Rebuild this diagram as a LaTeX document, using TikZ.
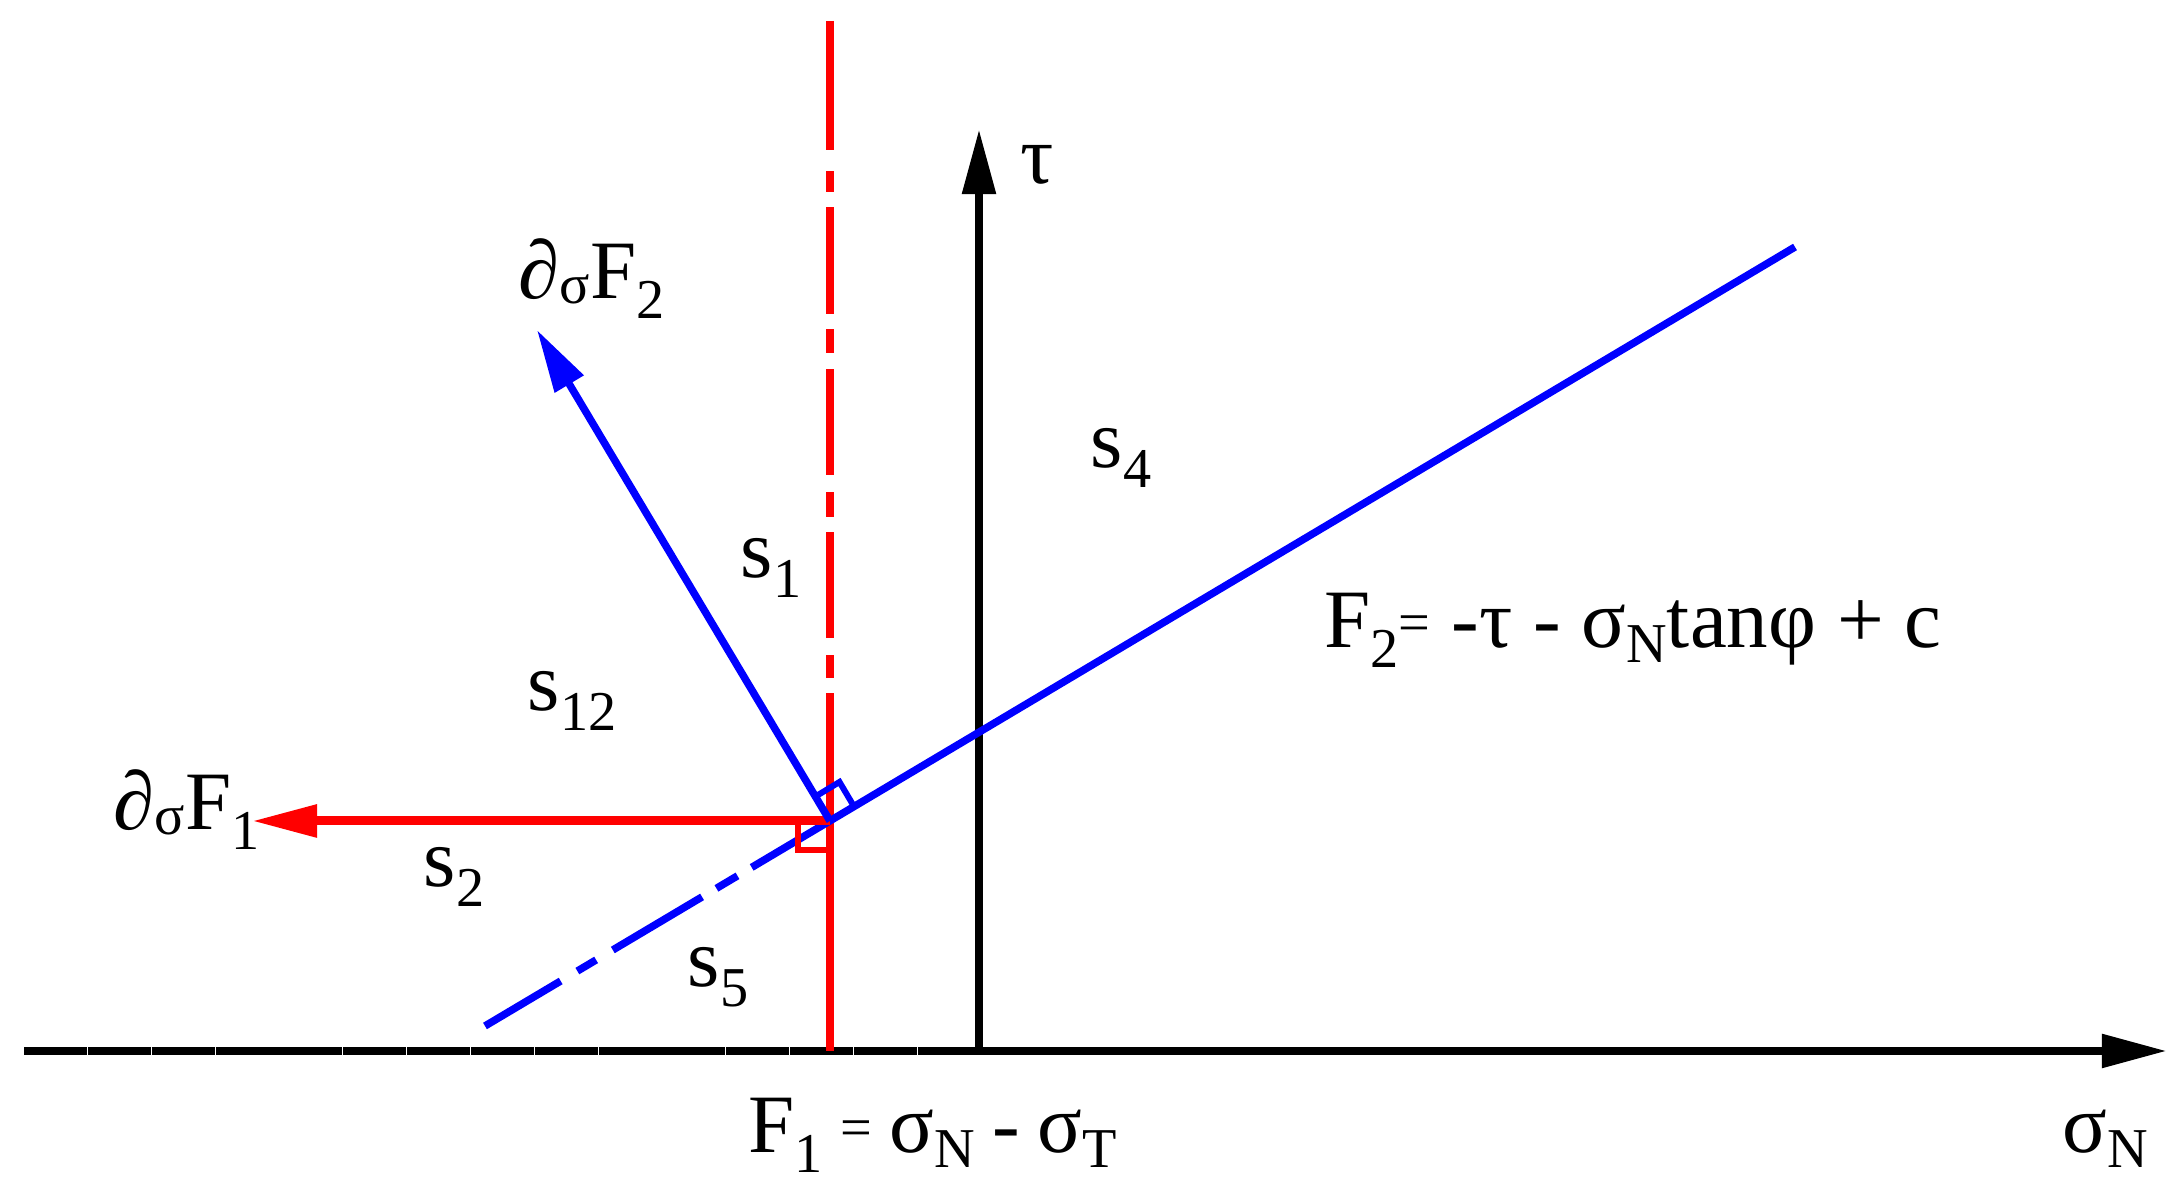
\documentclass[tikz,border=0pt]{standalone}
\usepackage{fontspec}
\setmainfont{Liberation Serif}
\newfontfamily\tnr{Liberation Serif}
\usetikzlibrary{arrows.meta}
\newcommand\lowsub[1]{\raisebox{-0.24em}{\fontsize{16pt}{16pt}\selectfont #1}}
\newcommand\nsub[1]{\raisebox{-0.18em}{\fontsize{16pt}{16pt}\selectfont #1}}
\newcommand\dsig{∂\raisebox{-0.06em}{\fontsize{16pt}{16pt}\selectfont σ}}
\newcommand\smeq{\raisebox{0.08em}{\fontsize{16pt}{16pt}\selectfont =}}
\newcommand\tsp{\hspace{0.21em}}
\begin{document}
\begin{tikzpicture}[x=0.01cm,y=-0.01cm,
  lbl/.style={anchor=base west, inner sep=0pt, font=\tnr\fontsize{23.6pt}{28pt}\selectfont},
  blk/.style={line width=0.085cm, black},
  redl/.style={line width=0.075cm, red},
  bluel/.style={line width=0.075cm, blue},
  bigtip/.style={-{Triangle[length=0.65cm,width=0.32cm]}}]
\useasboundingbox (0,0) rectangle (2174,1192);
% key points
\coordinate (O) at (979,1051);
\coordinate (XS) at (24,1051);
\coordinate (XE) at (2167,1051);
\coordinate (YE) at (979,129);
\coordinate (P) at (830,821);
\coordinate (RT) at (830,21);
\coordinate (RB) at (830,1051);
\coordinate (BL) at (485,1026);
\coordinate (BT) at (1795,247);
\coordinate (F1tip) at (252,821);
\coordinate (F2tip) at (537,330);
\coordinate (RA1) at (798,821);
\coordinate (RA2) at (798,850);
\coordinate (RA3) at (830,850);
\coordinate (BA1) at (815.5,796.5);
\coordinate (BA2) at (839.5,782);
\coordinate (BA3) at (854,806.5);
% axes
\draw[blk, dash pattern=on 0.63cm off 0.008cm] (XS) -- (O);
\draw[blk, bigtip] (O) -- (XE);
\draw[blk, bigtip] (O) -- (YE);
% red F1 line
\draw[redl, dash pattern=on 1.29cm off 0.21cm on 0.21cm off 0.15cm on 1.07cm off 0.15cm on 0.24cm off 0.16cm on 1.06cm off 0.17cm on 0.25cm off 0.15cm on 1.06cm off 0.17cm on 0.23cm off 0.15cm on 5cm off 0.1cm] (RT) -- (RB);
% blue F2 line
\draw[bluel, dash pattern=on 0.88cm off 0.194cm on 0.218cm off 0.194cm on 1.038cm off 0.167cm on 0.245cm off 0.165cm on 20cm off 0.1cm] (BL) -- (BT);
% gradient arrows
\draw[redl, line width=0.09cm, -{Triangle[length=0.65cm,width=0.31cm]}] (P) -- (F1tip);
\draw[bluel, -{Triangle[length=0.63cm,width=0.32cm]}] (P) -- (F2tip);
% right angle marks
\draw[red, line width=0.06cm] (RA1) -- (RA2) -- (RA3);
\draw[blue, line width=0.06cm] (BA1) -- (BA2) -- (BA3);
% labels
\node[lbl] (dF1) at (113,830) {\dsig F\lowsub{1}};
\node[lbl] (dF2) at (518,299) {\dsig F\lowsub{2}};
\node[lbl] (tau) at (1020,184) {τ};
\node[lbl] (s1) at (740,578) {s\lowsub{1}};
\node[lbl] (s4) at (1090,468) {s\lowsub{4}};
\node[lbl] (s12) at (527,711) {s\lowsub{12}};
\node[lbl] (s2) at (423,887) {s\lowsub{2}};
\node[lbl] (s5) at (687,987) {s\lowsub{5}};
\node[lbl] (f1) at (748,1153) {F\lowsub{1}\tsp\smeq\tsp σ\nsub{N}\tsp-\tsp σ\nsub{T}};
\node[lbl] (f2) at (1324,648) {F\lowsub{2}\smeq{} -τ - σ\nsub{N}tanφ + c};
\node[lbl] (sN) at (2062,1153) {σ\nsub{N}};
\end{tikzpicture}
\end{document}
